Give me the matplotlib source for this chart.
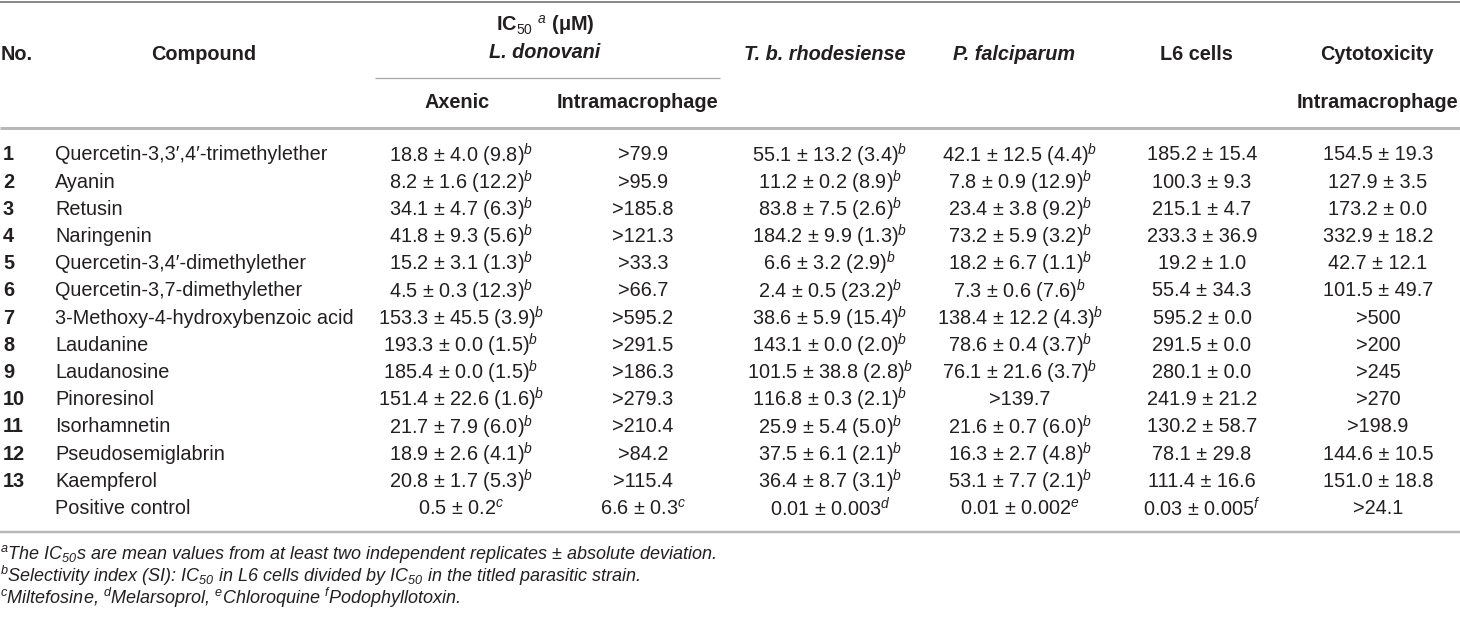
import matplotlib
matplotlib.use("Agg")
import matplotlib.pyplot as plt

plt.rcParams['font.family'] = ['Liberation Sans', 'DejaVu Sans']
plt.rcParams['mathtext.fontset'] = 'custom'
plt.rcParams['mathtext.rm'] = 'Liberation Sans'
plt.rcParams['mathtext.it'] = 'Liberation Sans:italic'
plt.rcParams['mathtext.bf'] = 'Liberation Sans:bold'
plt.rcParams['mathtext.sf'] = 'Liberation Sans:italic'

# ---------------- data ----------------
numbers = ["1", "2", "3", "4", "5", "6", "7", "8", "9", "10", "11", "12", "13", ""]
compounds = ["Quercetin-3,3′,4′-trimethylether", "Ayanin", "Retusin", "Naringenin",
             "Quercetin-3,4′-dimethylether", "Quercetin-3,7-dimethylether",
             "3-Methoxy-4-hydroxybenzoic acid", "Laudanine", "Laudanosine",
             "Pinoresinol", "Isorhamnetin", "Pseudosemiglabrin", "Kaempferol",
             "Positive control"]

axenic_mean = ["18.8", "8.2", "34.1", "41.8", "15.2", "4.5", "153.3", "193.3", "185.4",
               "151.4", "21.7", "18.9", "20.8", "0.5"]
axenic_sd = ["4.0", "1.6", "4.7", "9.3", "3.1", "0.3", "45.5", "0.0", "0.0",
             "22.6", "7.9", "2.6", "1.7", "0.2"]
axenic_si = ["9.8", "12.2", "6.3", "5.6", "1.3", "12.3", "3.9", "1.5", "1.5",
             "1.6", "6.0", "4.1", "5.3", ""]

intra_mean = [">79.9", ">95.9", ">185.8", ">121.3", ">33.3", ">66.7", ">595.2", ">291.5",
              ">186.3", ">279.3", ">210.4", ">84.2", ">115.4", "6.6"]
intra_sd = ["", "", "", "", "", "", "", "", "", "", "", "", "", "0.3"]
intra_si = ["", "", "", "", "", "", "", "", "", "", "", "", "", ""]

tbr_mean = ["55.1", "11.2", "83.8", "184.2", "6.6", "2.4", "38.6", "143.1", "101.5",
            "116.8", "25.9", "37.5", "36.4", "0.01"]
tbr_sd = ["13.2", "0.2", "7.5", "9.9", "3.2", "0.5", "5.9", "0.0", "38.8",
          "0.3", "5.4", "6.1", "8.7", "0.003"]
tbr_si = ["3.4", "8.9", "2.6", "1.3", "2.9", "23.2", "15.4", "2.0", "2.8",
          "2.1", "5.0", "2.1", "3.1", ""]

pf_mean = ["42.1", "7.8", "23.4", "73.2", "18.2", "7.3", "138.4", "78.6", "76.1",
           ">139.7", "21.6", "16.3", "53.1", "0.01"]
pf_sd = ["12.5", "0.9", "3.8", "5.9", "6.7", "0.6", "12.2", "0.4", "21.6",
         "", "0.7", "2.7", "7.7", "0.002"]
pf_si = ["4.4", "12.9", "9.2", "3.2", "1.1", "7.6", "4.3", "3.7", "3.7",
         "", "6.0", "4.8", "2.1", ""]

l6_mean = ["185.2", "100.3", "215.1", "233.3", "19.2", "55.4", "595.2", "291.5", "280.1",
           "241.9", "130.2", "78.1", "111.4", "0.03"]
l6_sd = ["15.4", "9.3", "4.7", "36.9", "1.0", "34.3", "0.0", "0.0", "0.0",
         "21.2", "58.7", "29.8", "16.6", "0.005"]
l6_si = ["", "", "", "", "", "", "", "", "", "", "", "", "", ""]

cyto_mean = ["154.5", "127.9", "173.2", "332.9", "42.7", "101.5", ">500", ">200", ">245",
             ">270", ">198.9", "144.6", "151.0", ">24.1"]
cyto_sd = ["19.3", "3.5", "0.0", "18.2", "12.1", "49.7", "", "", "",
           "", "", "10.5", "18.8", ""]
cyto_si = ["", "", "", "", "", "", "", "", "", "", "", "", "", ""]

# footnote letter on the positive-control row, per data column
control_notes = ["c", "c", "d", "e", "f", ""]

footnotes = [
    r"$^{a}$The IC$_{\mathsf{50}}$s are mean values from at least two independent replicates ± absolute deviation.",
    r"$^{b}$Selectivity index (SI): IC$_{\mathsf{50}}$ in L6 cells divided by IC$_{\mathsf{50}}$ in the titled parasitic strain.",
    r"$^{c}$Miltefosine, $^{d}$Melarsoprol, $^{e}$Chloroquine $^{f}$Podophyllotoxin.",
]

# ---------------- layout ----------------
W, H = 1460, 617
fig = plt.figure(figsize=(W / 100, H / 100), dpi=100)
ax = fig.add_axes([0, 0, 1, 1])
ax.set_xlim(0, W)
ax.set_ylim(H, 0)
ax.axis('off')

TXT = '#231f20'
FS = 14.3
px = 0.72  # points per pixel

# rules
ax.hlines(1.5, 0, W, color='#8a8a8a', lw=2 * px)
ax.hlines(78, 375, 720, color='#a8a8a8', lw=1.3 * px)
ax.hlines(128, 0, W, color='#b8b8b8', lw=3 * px)
ax.hlines(532, 0, W, color='#b8b8b8', lw=2.5 * px)

# headers
hdr = dict(fontsize=FS, fontweight='bold', color=TXT, va='center')
ax.text(1, 55, "No.", ha='left', **hdr)
ax.text(204, 55, "Compound", ha='center', **hdr)
ax.text(545, 25, r"IC$_{50}$ $^{a}$ (μM)", ha='center', **hdr)
ax.text(545, 53, "L. donovani", ha='center', style='italic', **hdr)
ax.text(457, 102, "Axenic", ha='center', **hdr)
ax.text(637, 102, "Intramacrophage", ha='center', **hdr)
ax.text(825, 55, "T. b. rhodesiense", ha='center', style='italic', **hdr)
ax.text(1014, 55, "P. falciparum", ha='center', style='italic', **hdr)
ax.text(1196, 55, "L6 cells", ha='center', **hdr)
ax.text(1377, 55, "Cytotoxicity", ha='center', **hdr)
ax.text(1377, 102, "Intramacrophage", ha='center', **hdr)


def cell(mean, sd, si, note):
    s = mean
    if sd:
        s += " ± " + sd
    if si:
        s += " (" + si + ")"
    if si:
        s += "$^{b}$"
    elif note:
        s += "$^{" + note + "}$"
    return s


columns = [
    (axenic_mean, axenic_sd, axenic_si, 461),
    (intra_mean, intra_sd, intra_si, 643),
    (tbr_mean, tbr_sd, tbr_si, 830),
    (pf_mean, pf_sd, pf_si, 1020),
    (l6_mean, l6_sd, l6_si, 1202),
    (cyto_mean, cyto_sd, cyto_si, 1378),
]

y0, dy = 155, 27.2
n = len(compounds)
for i in range(n):
    y = y0 + i * dy
    last = (i == n - 1)
    if numbers[i]:
        ax.text(3, y, numbers[i], ha='left', va='center', fontsize=FS,
                fontweight='bold', color=TXT)
    ax.text(55, y, compounds[i], ha='left', va='center', fontsize=FS, color=TXT)
    for j, (m, sd, si, xc) in enumerate(columns):
        note = control_notes[j] if last else ""
        ax.text(xc, y, cell(m[i], sd[i], si[i], note), ha='center', va='center',
                fontsize=FS, color=TXT)

for k, fn in enumerate(footnotes):
    ax.text(0, 554 + k * 22, fn, ha='left', va='center', fontsize=13.0,
            style='italic', color=TXT)

fig.savefig("out.png", dpi=100)
